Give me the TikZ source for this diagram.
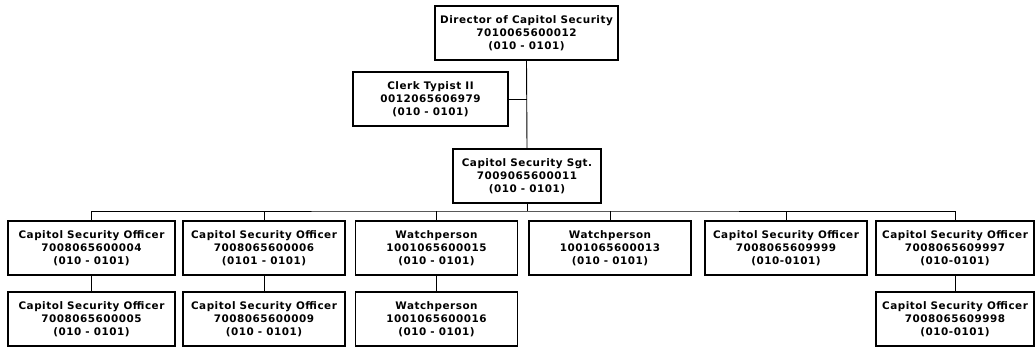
\documentclass[tikz,border=0pt]{standalone}
\usepackage{fontspec}
\setmainfont{DejaVu Sans}[LetterSpace=5]
\begin{document}
\begin{tikzpicture}[x=1pt,y=-1pt,
  box/.style={draw=black, line width=1.6pt, fill=white, align=center, inner sep=0pt,
    font=\bfseries\fontsize{10.4}{13}\selectfont},
  conn/.style={draw=black, line width=0.9pt}]
\useasboundingbox (0,0) rectangle (1036,354);
\fill[white] (0,0) rectangle (1036,354);
% top
\node[box, minimum width=183pt, minimum height=54pt] (dir) at (526.5,33) {Director of Capitol Security\\7010065600012\\(010 - 0101)};
\node[box, minimum width=155pt, minimum height=54pt] (clerk) at (430.5,99) {Clerk Typist II\\0012065606979\\(010 - 0101)};
\node[box, minimum width=148pt, minimum height=54pt] (sgt) at (527,176) {Capitol Security Sgt.\\7009065600011\\(010 - 0101)};
% row 1
\tikzset{rowbox/.style={box, minimum width=162pt, minimum height=54pt}}
\node[rowbox, minimum width=167pt] (a1) at (91.5,248) {Capitol Security Officer\\7008065600004\\(010 - 0101)};
\node[rowbox] (a2) at (264,248) {Capitol Security Officer\\7008065600006\\(0101 - 0101)};
\node[rowbox] (a3) at (436.5,248) {Watchperson\\1001065600015\\(010 - 0101)};
\node[rowbox] (a4) at (610,248) {Watchperson\\1001065600013\\(010 - 0101)};
\node[rowbox] (a5) at (786,248) {Capitol Security Officer\\7008065609999\\(010-0101)};
\node[rowbox, minimum width=158pt] (a6) at (955,248) {Capitol Security Officer\\7008065609997\\(010-0101)};
% row 2
\node[rowbox, minimum width=167pt] (b1) at (91.5,319) {Capitol Security Officer\\7008065600005\\(010 - 0101)};
\node[rowbox] (b2) at (264,319) {Capitol Security Officer\\7008065600009\\(010 - 0101)};
\node[rowbox] (b3) at (436.5,319) {Watchperson\\1001065600016\\(010 - 0101)};
\node[rowbox, minimum width=158pt] (b6) at (955,319) {Capitol Security Officer\\7008065609998\\(010-0101)};
% connectors
\coordinate (j) at (dir.south |- clerk.east);
\draw[conn] (dir.south) -- (sgt.north);
\draw[conn] (clerk.east) -- (j);
\coordinate (bus) at (527,211);
\draw[conn] (sgt.south) -- (bus);
\draw[conn] (a1.north) |- (bus) -| (a6.north);
\foreach \n in {a2,a3,a4,a5} \draw[conn] (\n.north) -- (\n.north |- bus);
\foreach \t/\b in {a1/b1,a2/b2,a3/b3,a6/b6} \draw[conn] (\t.south) -- (\b.north);
\end{tikzpicture}
\end{document}
